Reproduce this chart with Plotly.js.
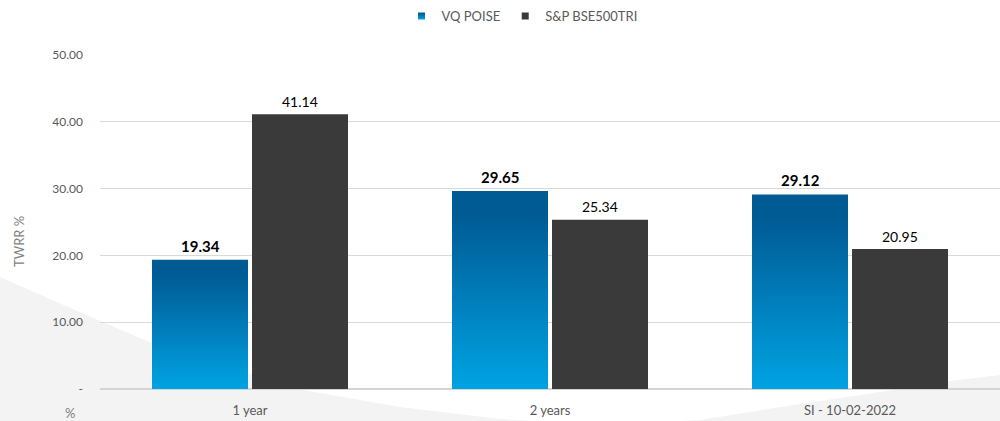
<!DOCTYPE html>
<html>
<head>
<meta charset="utf-8">
<script src="https://cdn.plot.ly/plotly-3.0.1.min.js"></script>
<style>html,body{margin:0;padding:0;background:#fff;}#chart{width:1000px;height:421px;}</style>
</head>
<body>
<div id="chart"></div>
<script>
const categories = ['1 year', '2 years', 'SI - 10-02-2022'];
const seriesNames = ['VQ POISE', 'S&P BSE500TRI'];
const vqPoise = [19.34, 29.65, 29.12];
const bse500Tri = [41.14, 25.34, 20.95];
const yTickValues = [0, 10, 20, 30, 40, 50];
const yTickLabels = ['-', '10.00', '20.00', '30.00', '40.00', '50.00'];
const yAxisTitle = 'TWRR %';
const cornerNote = '%';

const FONT = 'Lato, "Open Sans", sans-serif';
const W = 1000, H = 421, ML = 100, MR = 0, MT = 55, MB = 32;
const plotW = W - ML - MR, plotH = H - MT - MB;
function px(x, y) { return ((x - ML) / plotW).toFixed(4) + ',' + ((H - MB - y) / plotH).toFixed(4); }

// decorative light-grey background swoosh (page pixel outline)
const swoosh = [[0,277],[100,321],[152,343],[230,368],[303,390],[400,407],[500,419],[600,425],[700,420],[800,404],[900,389],[950,381],[1000,375],[1000,440],[0,440]];
const swooshPath = 'M' + swoosh.map(p => px(p[0], p[1])).join('L') + 'Z';

const traces = [
  { type: 'bar', name: seriesNames[0], x: categories, y: vqPoise,
    marker: { color: '#0077b8', line: { width: 0 } }, hoverinfo: 'none' },
  { type: 'bar', name: seriesNames[1], x: categories, y: bse500Tri,
    marker: { color: '#3a3a3a', line: { width: 0 } }, hoverinfo: 'none' }
];

const annotations = [];
categories.forEach((c, i) => {
  annotations.push({ x: c, y: vqPoise[i], xref: 'x', yref: 'y', xshift: -50, yshift: 14,
    yanchor: 'middle', showarrow: false, text: '<b>' + vqPoise[i].toFixed(2) + '</b>',
    font: { family: FONT, size: 15, color: '#000000' } });
  annotations.push({ x: c, y: bse500Tri[i], xref: 'x', yref: 'y', xshift: 50, yshift: 13,
    yanchor: 'middle', showarrow: false, text: bse500Tri[i].toFixed(2),
    font: { family: FONT, size: 14, color: '#000000' } });
});
annotations.push({ xref: 'paper', yref: 'paper', x: (19 - ML) / plotW, y: (H - MB - 242) / plotH,
  xanchor: 'center', yanchor: 'middle', textangle: -90, showarrow: false, text: yAxisTitle,
  font: { family: FONT, size: 13, color: '#7f7f7f' } });
annotations.push({ xref: 'paper', yref: 'paper', x: (70 - ML) / plotW, y: (H - MB - 413) / plotH,
  xanchor: 'center', yanchor: 'middle', showarrow: false, text: cornerNote,
  font: { family: FONT, size: 13, color: '#7f7f7f' } });

const layout = {
  width: W, height: H,
  margin: { l: ML, r: MR, t: MT, b: MB, pad: 0 },
  paper_bgcolor: '#ffffff', plot_bgcolor: 'rgba(0,0,0,0)',
  font: { family: FONT, color: '#595959' },
  barmode: 'group', bargap: 1/3, bargroupgap: 0.04,
  showlegend: true,
  legend: { orientation: 'h', x: (522 - ML) / plotW, xanchor: 'center', y: (H - MB - 16) / plotH, yanchor: 'middle',
    font: { family: FONT, size: 13, color: '#595959' }, bgcolor: 'rgba(0,0,0,0)', traceorder: 'normal',
    itemwidth: 30 },
  xaxis: { type: 'category', showgrid: false, showline: false, zeroline: false, ticks: '',
    ticklabelstandoff: 12,
    tickfont: { family: FONT, size: 13, color: '#595959' }, fixedrange: true },
  yaxis: { range: [0, 50], tickmode: 'array', tickvals: yTickValues, ticktext: yTickLabels,
    showgrid: true, gridcolor: '#d9d9d9', gridwidth: 1, zeroline: true, zerolinecolor: '#d4d4d4', zerolinewidth: 2,
    showline: false, ticks: '', ticklabelstandoff: 16,
    tickfont: { family: FONT, size: 12, color: '#595959' }, fixedrange: true },
  shapes: [{ type: 'path', xref: 'paper', yref: 'paper', path: swooshPath, fillcolor: '#f3f3f3',
    line: { width: 0 }, layer: 'below' }],
  annotations: annotations
};

Plotly.newPlot('chart', traces, layout, { displayModeBar: false, staticPlot: true }).then(function (gd) {
  const NS = 'http://www.w3.org/2000/svg';
  const svg = gd.querySelector('svg.main-svg');
  let defs = svg.querySelector('defs');
  if (!defs) { defs = document.createElementNS(NS, 'defs'); svg.insertBefore(defs, svg.firstChild); }
  const g = document.createElementNS(NS, 'linearGradient');
  g.setAttribute('id', 'vqGrad'); g.setAttribute('x1', '0'); g.setAttribute('y1', '0');
  g.setAttribute('x2', '0'); g.setAttribute('y2', '1');
  [['0', '#005b94'], ['0.12', '#005b94'], ['1', '#00a3e3']].forEach(function (s) {
    const st = document.createElementNS(NS, 'stop');
    st.setAttribute('offset', s[0]); st.setAttribute('stop-color', s[1]);
    g.appendChild(st);
  });
  defs.appendChild(g);
  const barTraces = gd.querySelectorAll('.barlayer .trace');
  if (barTraces[0]) barTraces[0].querySelectorAll('path').forEach(function (p) { p.style.fill = 'url(#vqGrad)'; });
  const legendItems = gd.querySelectorAll('.legend .traces');
  legendItems.forEach(function (it, i) {
    const p = it.querySelector('path.legendbar') || it.querySelector('.legendpoints path');
    if (p) {
      p.setAttribute('d', 'M3.5,3.5H-3.5V-3.5H3.5Z');
      if (i === 0) p.style.fill = 'url(#vqGrad)';
    }
  });
});
</script>
</body>
</html>
